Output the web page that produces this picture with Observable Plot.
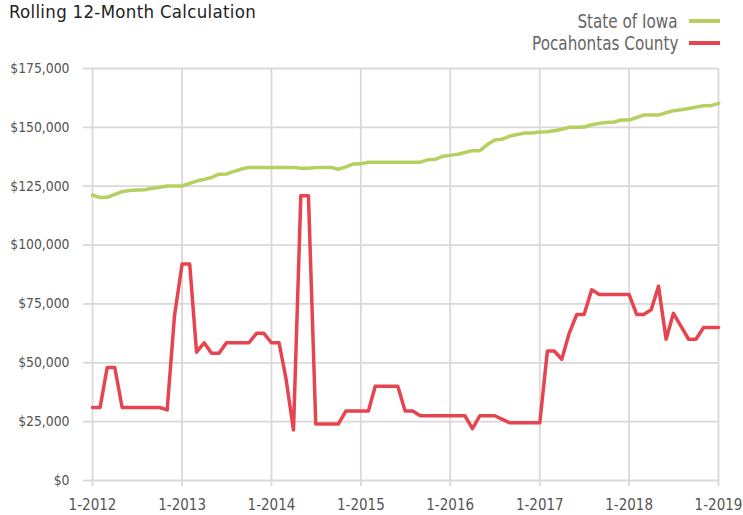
<!DOCTYPE html>
<html>
<head>
<meta charset="utf-8">
<script src="https://cdn.jsdelivr.net/npm/d3@7"></script>
<script src="https://cdn.jsdelivr.net/npm/@observablehq/plot@0.6"></script>
<style>
  body { margin: 0; background: #fff; font-family: "DejaVu Sans Condensed", "Roboto", sans-serif; }
  #wrap { position: relative; width: 743px; height: 515px; }
  #title { position: absolute; left: 9px; top: 1px; font-size: 18.5px; letter-spacing: 0.3px; color: #222; }
  .leg { position: absolute; right: 23px; height: 24px; display: flex; align-items: center; }
  .lt { font-size: 19px; color: #666; transform: scaleX(0.89); transform-origin: right center; margin-right: 11px; }
  .sw { display: inline-block; width: 31px; height: 4px; }
  #chart { position: absolute; left: 0; top: 56px; }
</style>
</head>
<body>
<div id="wrap">
  <div id="title">Rolling 12-Month Calculation</div>
  <div class="leg" style="top:9px"><span class="lt">State of Iowa</span><span class="sw" style="background:#b6d05f"></span></div>
  <div class="leg" style="top:31px"><span class="lt">Pocahontas County</span><span class="sw" style="background:#e6454f"></span></div>
  <div id="chart"></div>
</div>
<script>
const startYear = 2012;
const seriesNames = ["State of Iowa", "Pocahontas County"];
const seriesColors = ["#b6d05f", "#e6454f"];
// values in thousands of dollars, monthly from 1-2012 to 1-2019
const iowa = [121.2,120.2,120.3,121.5,122.7,123.2,123.4,123.5,124.1,124.6,125.1,125.1,125.1,
  126.2,127.2,127.9,128.7,130.1,130.2,131.3,132.3,133,133,133,133,
  133,133,133,132.6,132.6,132.9,133,133,132.2,133.2,134.4,134.5,
  135.2,135.2,135.2,135.2,135.2,135.2,135.2,135.2,136.2,136.4,137.7,138.1,
  138.6,139.3,140.1,140.1,142.7,144.6,145,146.3,147,147.6,147.6,148,
  148.1,148.6,149.2,150,150,150.1,151.1,151.7,152.1,152.3,153.1,153.1,
  154.2,155.2,155.2,155.2,156.2,157.1,157.5,158,158.6,159.2,159.2,160.2];
const pocahontas = [31,31,48,48,31,31,31,31,31,31,30,70,92,
  92,54.5,58.5,54,54,58.5,58.5,58.5,58.5,62.5,62.5,58.5,
  58.5,43.5,21.5,121,121,24,24,24,24,29.5,29.5,29.5,
  29.5,40,40,40,40,29.5,29.5,27.5,27.5,27.5,27.5,27.5,
  27.5,27.5,22,27.5,27.5,27.5,26,24.5,24.5,24.5,24.5,24.5,
  55,55,51.5,62.5,70.5,70.5,81,79,79,79,79,79,
  70.5,70.5,72.5,82.5,60,71,65.5,60,60,65,65,65];
const yTicks = [0, 25000, 50000, 75000, 100000, 125000, 150000, 175000];
const xTickYears = [2012, 2013, 2014, 2015, 2016, 2017, 2018, 2019];

const rows = [];
[iowa, pocahontas].forEach((arr, s) => {
  arr.forEach((v, i) => rows.push({series: seriesNames[s], date: new Date(Date.UTC(startYear, i, 1)), value: v * 1000}));
});
const xTicks = xTickYears.map(y => new Date(Date.UTC(y, 0, 1)));
const font = '"DejaVu Sans Condensed", "Roboto", sans-serif';

const chart = Plot.plot({
  width: 743,
  height: 459,
  marginLeft: 92,
  marginRight: 25,
  marginTop: 12,
  marginBottom: 35,
  style: {fontFamily: font, fontSize: "14px", color: "#555", background: "#fff"},
  x: {type: "utc", domain: [xTicks[0], xTicks[xTicks.length - 1]]},
  y: {domain: [0, 175000]},
  color: {domain: seriesNames, range: seriesColors},
  marks: [
    Plot.gridY(yTicks, {stroke: "#d9d9d9", strokeOpacity: 1, strokeWidth: 1.8}),
    Plot.gridX(xTicks, {stroke: "#d9d9d9", strokeOpacity: 1, strokeWidth: 1.8}),
    Plot.axisY(yTicks, {tickFormat: d3.format("$,"), tickSize: 9, tickPadding: 14, fontSize: 13.8, stroke: "#d9d9d9", strokeWidth: 1.8, label: null, fill: "#555"}),
    Plot.axisX(xTicks, {tickFormat: d => "1-" + d.getUTCFullYear(), tickSize: 6, tickPadding: 13, fontSize: 15, stroke: "#d9d9d9", strokeWidth: 1.8, label: null, fill: "#555"}),
    Plot.line(rows, {x: "date", y: "value", z: "series", stroke: "series", strokeWidth: 3.5, strokeLinejoin: "round"})
  ]
});
document.getElementById("chart").appendChild(chart);
</script>
</body>
</html>
